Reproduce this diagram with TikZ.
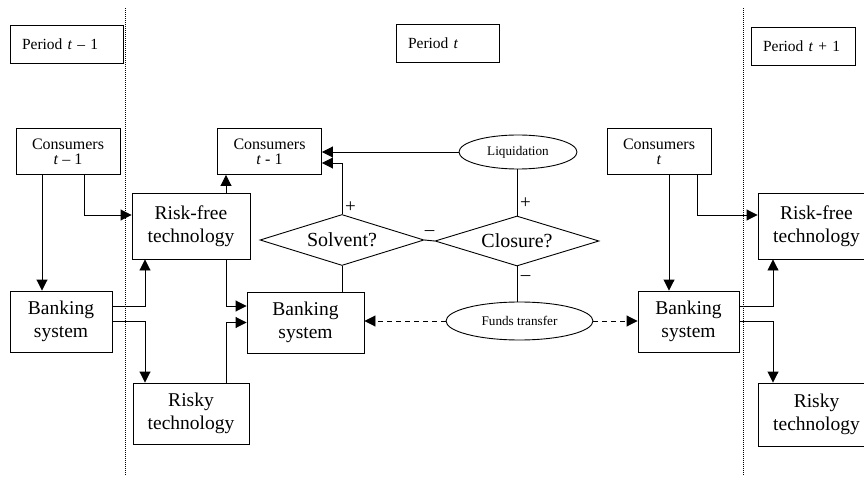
\documentclass[tikz,border=0pt]{standalone}
\usepackage{fontspec}
\setmainfont{Liberation Serif}
\usetikzlibrary{shapes.geometric,arrows.meta}
\begin{document}
\begin{tikzpicture}[x=1pt,y=1pt,line width=0.9pt,
	big_box/.style={rectangle,draw,align=center,font=\fontsize{19.5}{22.5}\selectfont,inner sep=0pt},
	small_box/.style={rectangle,draw,align=center,font=\fontsize{16}{15}\selectfont,minimum width=104pt,minimum height=46pt,inner sep=0pt},
	period_box/.style={rectangle,draw,align=left,font=\fontsize{15.5}{18}\selectfont,minimum height=38pt,inner xsep=12pt,inner ysep=0pt},
	test_node/.style={diamond,draw,font=\fontsize{20}{24}\selectfont,minimum width=164pt,minimum height=51pt,inner sep=0pt,aspect=3.2},
	event_node/.style={ellipse,draw,font=\fontsize{13.2}{15}\selectfont,inner sep=0pt},
	arr/.style={-{Triangle[length=11pt,width=11pt]}},
	sign/.style={font=\fontsize{19}{19}\selectfont,inner sep=0pt}]
	
	\useasboundingbox (0,0) rectangle (864,477);
	
	\draw[line width=0.6pt,dash pattern=on 1pt off 1pt] (125,2) -- (125,469);
	\draw[line width=0.6pt,dash pattern=on 1pt off 1pt] (743,2) -- (743,469);
	
	\node[period_box,text width=89pt] (per1) at (66.5,433) {Period \textit{t} – 1};
	\node[period_box,text width=79pt] (per2) at (447.5,433.5) {Period \textit{t}};
	\node[period_box,text width=80pt] (per3) at (803,431) {Period \textit{t} + 1};
	
	\node[small_box] (cons1) at (68,325.5) {Consumers\\\textit{t} – 1};
	\node[small_box] (cons2) at (269.5,325.5) {Consumers\\\textit{t} - 1};
	\node[small_box] (cons3) at (659,325.5) {Consumers\\\textit{t}};
	
	\node[big_box,minimum width=118pt,minimum height=66pt] (rf1) at (191,251) {Risk-free\\technology};
	\node[big_box,minimum width=116pt,minimum height=61pt] (rk1) at (191,63.5) {Risky\\technology};
	\node[big_box,minimum width=102pt,minimum height=61pt] (bk1) at (61,155.5) {Banking\\system};
	\node[big_box,minimum width=117pt,minimum height=61pt] (bk2) at (305.5,154.5) {Banking\\system};
	\node[big_box,minimum width=101pt,minimum height=61pt] (bk3) at (688.5,155.5) {Banking\\system};
	\node[big_box,minimum width=117pt,minimum height=66pt] (rf3) at (816.5,251) {Risk-free\\technology};
	\node[big_box,minimum width=117pt,minimum height=63pt] (rk3) at (816.5,62.5) {Risky\\technology};
	
	\node[test_node] (solv) at (342,237) {Solvent?};
	\node[test_node,minimum height=50pt] (clos) at (517,236) {Closure?};
	
	\node[event_node,minimum width=118pt,minimum height=34pt] (liq) at (518,325) {Liquidation};
	\node[event_node,minimum width=147pt,minimum height=38pt] (fund) at (519.5,156) {Funds transfer};
	
	\draw[arr] ([xshift=-26pt]cons1.south) -- ([xshift=-26pt]cons1.south |- bk1.north);
	\draw[arr] ([xshift=16pt]cons1.south) |- ([yshift=11pt]rf1.west);
	\draw[arr] ([xshift=35pt]rf1.north) -- ([xshift=35pt]rf1.north |- cons2.south);
	\draw[arr] ([yshift=15.5pt]bk1.east) -| ([xshift=-46pt]rf1.south);
	\draw[arr] (bk1.east) -| ([xshift=-46pt]rk1.north);
	\draw[arr] ([xshift=35pt]rf1.south) |- ([yshift=16.5pt]bk2.west);
	\draw[arr] ([xshift=35pt]rk1.north) |- (bk2.west);
	
	\draw (solv.south) -- (solv.south |- bk2.north);
	\draw[arr] (solv.north) |- ([yshift=-11.5pt]cons2.east);
	\draw[arr] (liq.west) -- (liq.west -| cons2.east);
	\draw (solv.east) -- (clos.west);
	\draw (clos.north) -- (clos.north |- liq.south);
	\draw (clos.south) -- (clos.south |- fund.north);
	\draw[arr,dash pattern=on 5pt off 4pt] (fund.west) -- (fund.west -| bk2.east);
	\draw[arr,dash pattern=on 5pt off 4pt] (fund.east) -- (fund.east -| bk3.west);
	
	\node[sign] (s1) at ([shift={(8.5pt,7pt)}]solv.north) {+};
	\node[sign] (s2) at (429.5,244) {–};
	\node[sign] (s3) at ([shift={(8.5pt,12.5pt)}]clos.north) {+};
	\node[sign] (s4) at ([shift={(8.5pt,-12pt)}]clos.south) {–};
	
	\draw[arr] ([xshift=10pt]cons3.south) -- ([xshift=10pt]cons3.south |- bk3.north);
	\draw[arr] ([xshift=38pt]cons3.south) |- ([yshift=11pt]rf3.west);
	\draw[arr] ([yshift=15.5pt]bk3.east) -| ([xshift=-43.5pt]rf3.south);
	\draw[arr] (bk3.east) -| ([xshift=-43.5pt]rk3.north);
\end{tikzpicture}
\end{document}
